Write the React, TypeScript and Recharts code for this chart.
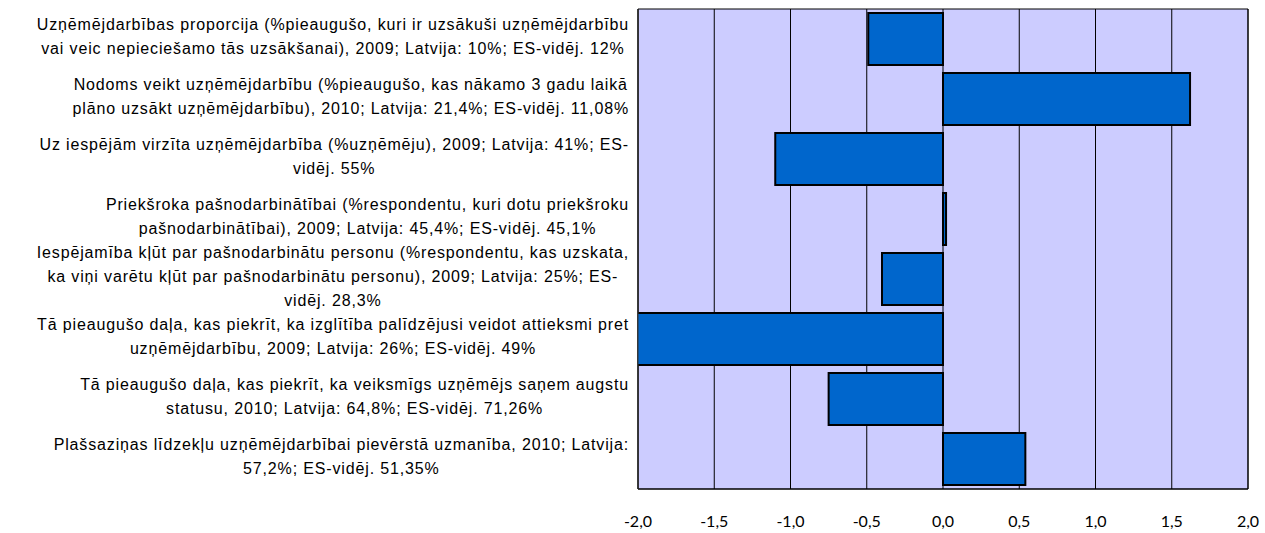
import { BarChart, Bar, XAxis, YAxis, CartesianGrid, ReferenceArea } from "recharts"

const categories = [
  "Uzņēmējdarbības proporcija (%pieaugušo, kuri ir uzsākuši uzņēmējdarbību\nvai veic nepieciešamo tās uzsākšanai), 2009; Latvija: 10%; ES-vidēj. 12%",
  "Nodoms veikt uzņēmējdarbību (%pieaugušo, kas nākamo 3 gadu laikā\nplāno uzsākt uzņēmējdarbību), 2010; Latvija: 21,4%; ES-vidēj. 11,08%",
  "Uz iespējām virzīta uzņēmējdarbība (%uzņēmēju), 2009; Latvija: 41%; ES-\nvidēj. 55%",
  "Priekšroka pašnodarbinātībai (%respondentu, kuri dotu priekšroku\npašnodarbinātībai), 2009; Latvija: 45,4%; ES-vidēj. 45,1%",
  "Iespējamība kļūt par pašnodarbinātu personu (%respondentu, kas uzskata,\nka viņi varētu kļūt par pašnodarbinātu personu), 2009; Latvija: 25%; ES-\nvidēj. 28,3%",
  "Tā pieaugušo daļa, kas piekrīt, ka izglītība palīdzējusi veidot attieksmi pret\nuzņēmējdarbību, 2009; Latvija: 26%; ES-vidēj. 49%",
  "Tā pieaugušo daļa, kas piekrīt, ka veiksmīgs uzņēmējs saņem augstu\nstatusu, 2010; Latvija: 64,8%; ES-vidēj. 71,26%",
  "Plašsaziņas līdzekļu uzņēmējdarbībai pievērstā uzmanība, 2010; Latvija:\n57,2%; ES-vidēj. 51,35%",
]

const values = [-0.49, 1.62, -1.1, 0.02, -0.4, -2.04, -0.75, 0.54]

const xTicks = [-2, -1.5, -1, -0.5, 0, 0.5, 1, 1.5, 2]

const data = categories.map((name, i) => ({ name, value: values[i] }))

const LABEL_FONT = "16px 'Liberation Sans', Arial, sans-serif"
const LETTER_SP = 0.85

let ctx: CanvasRenderingContext2D | null = null
const measure = (s: string) => {
  if (!ctx) ctx = document.createElement("canvas").getContext("2d")
  if (!ctx) return s.length * 8
  ctx.font = LABEL_FONT
  return ctx.measureText(s).width + s.length * LETTER_SP
}

const CategoryTick = (props: any) => {
  const { y, payload } = props
  const lines: string[] = String(payload.value).split("\n")
  const maxW = Math.max(...lines.map(measure))
  const cx = 629 - maxW / 2
  const lh = 24
  const startY = y - ((lines.length - 1) * lh) / 2 - 3
  return (
    <text
      x={cx}
      y={startY}
      textAnchor="middle"
      dominantBaseline="central"
      fontFamily="'Liberation Sans', Arial, sans-serif"
      fontSize={16}
      letterSpacing={LETTER_SP}
      fill="#000"
    >
      {lines.map((l, i) => (
        <tspan key={i} x={cx} y={startY + i * lh}>
          {l}
        </tspan>
      ))}
    </text>
  )
}

export default function App() {
  return (
    <div style={{ position: "absolute", left: 0, top: 0 }}>
      <BarChart
        width={1265}
        height={533}
        data={data}
        layout="vertical"
        margin={{ top: 9, right: 17, bottom: 0, left: 0 }}
        barCategoryGap={4}
      >
        <CartesianGrid
          horizontal={false}
          stroke="#000"
          strokeOpacity={1}
          fill="#CCCCFF"
          fillOpacity={1}
        />
        <XAxis
          type="number"
          domain={[-2, 2]}
          ticks={xTicks}
          allowDataOverflow
          height={44}
          tickLine={false}
          axisLine={{ stroke: "#000" }}
          tickMargin={21}
          tickFormatter={(v: number) => v.toFixed(1).replace(".", ",")}
          tick={{ fill: "#000", fontSize: 16, fontFamily: "Lato, 'Open Sans', sans-serif" }}
          interval={0}
        />
        <YAxis
          type="category"
          dataKey="name"
          width={638}
          tickLine={false}
          axisLine={{ stroke: "#333" }}
          tick={<CategoryTick />}
          interval={0}
        />
        <ReferenceArea x1={-2} x2={2} fill="none" stroke="#000" strokeWidth={1} ifOverflow="visible" />
        <Bar
          dataKey="value"
          fill="#0066CC"
          stroke="#000"
          strokeWidth={2}
          isAnimationActive={false}
        />
      </BarChart>
    </div>
  )
}
